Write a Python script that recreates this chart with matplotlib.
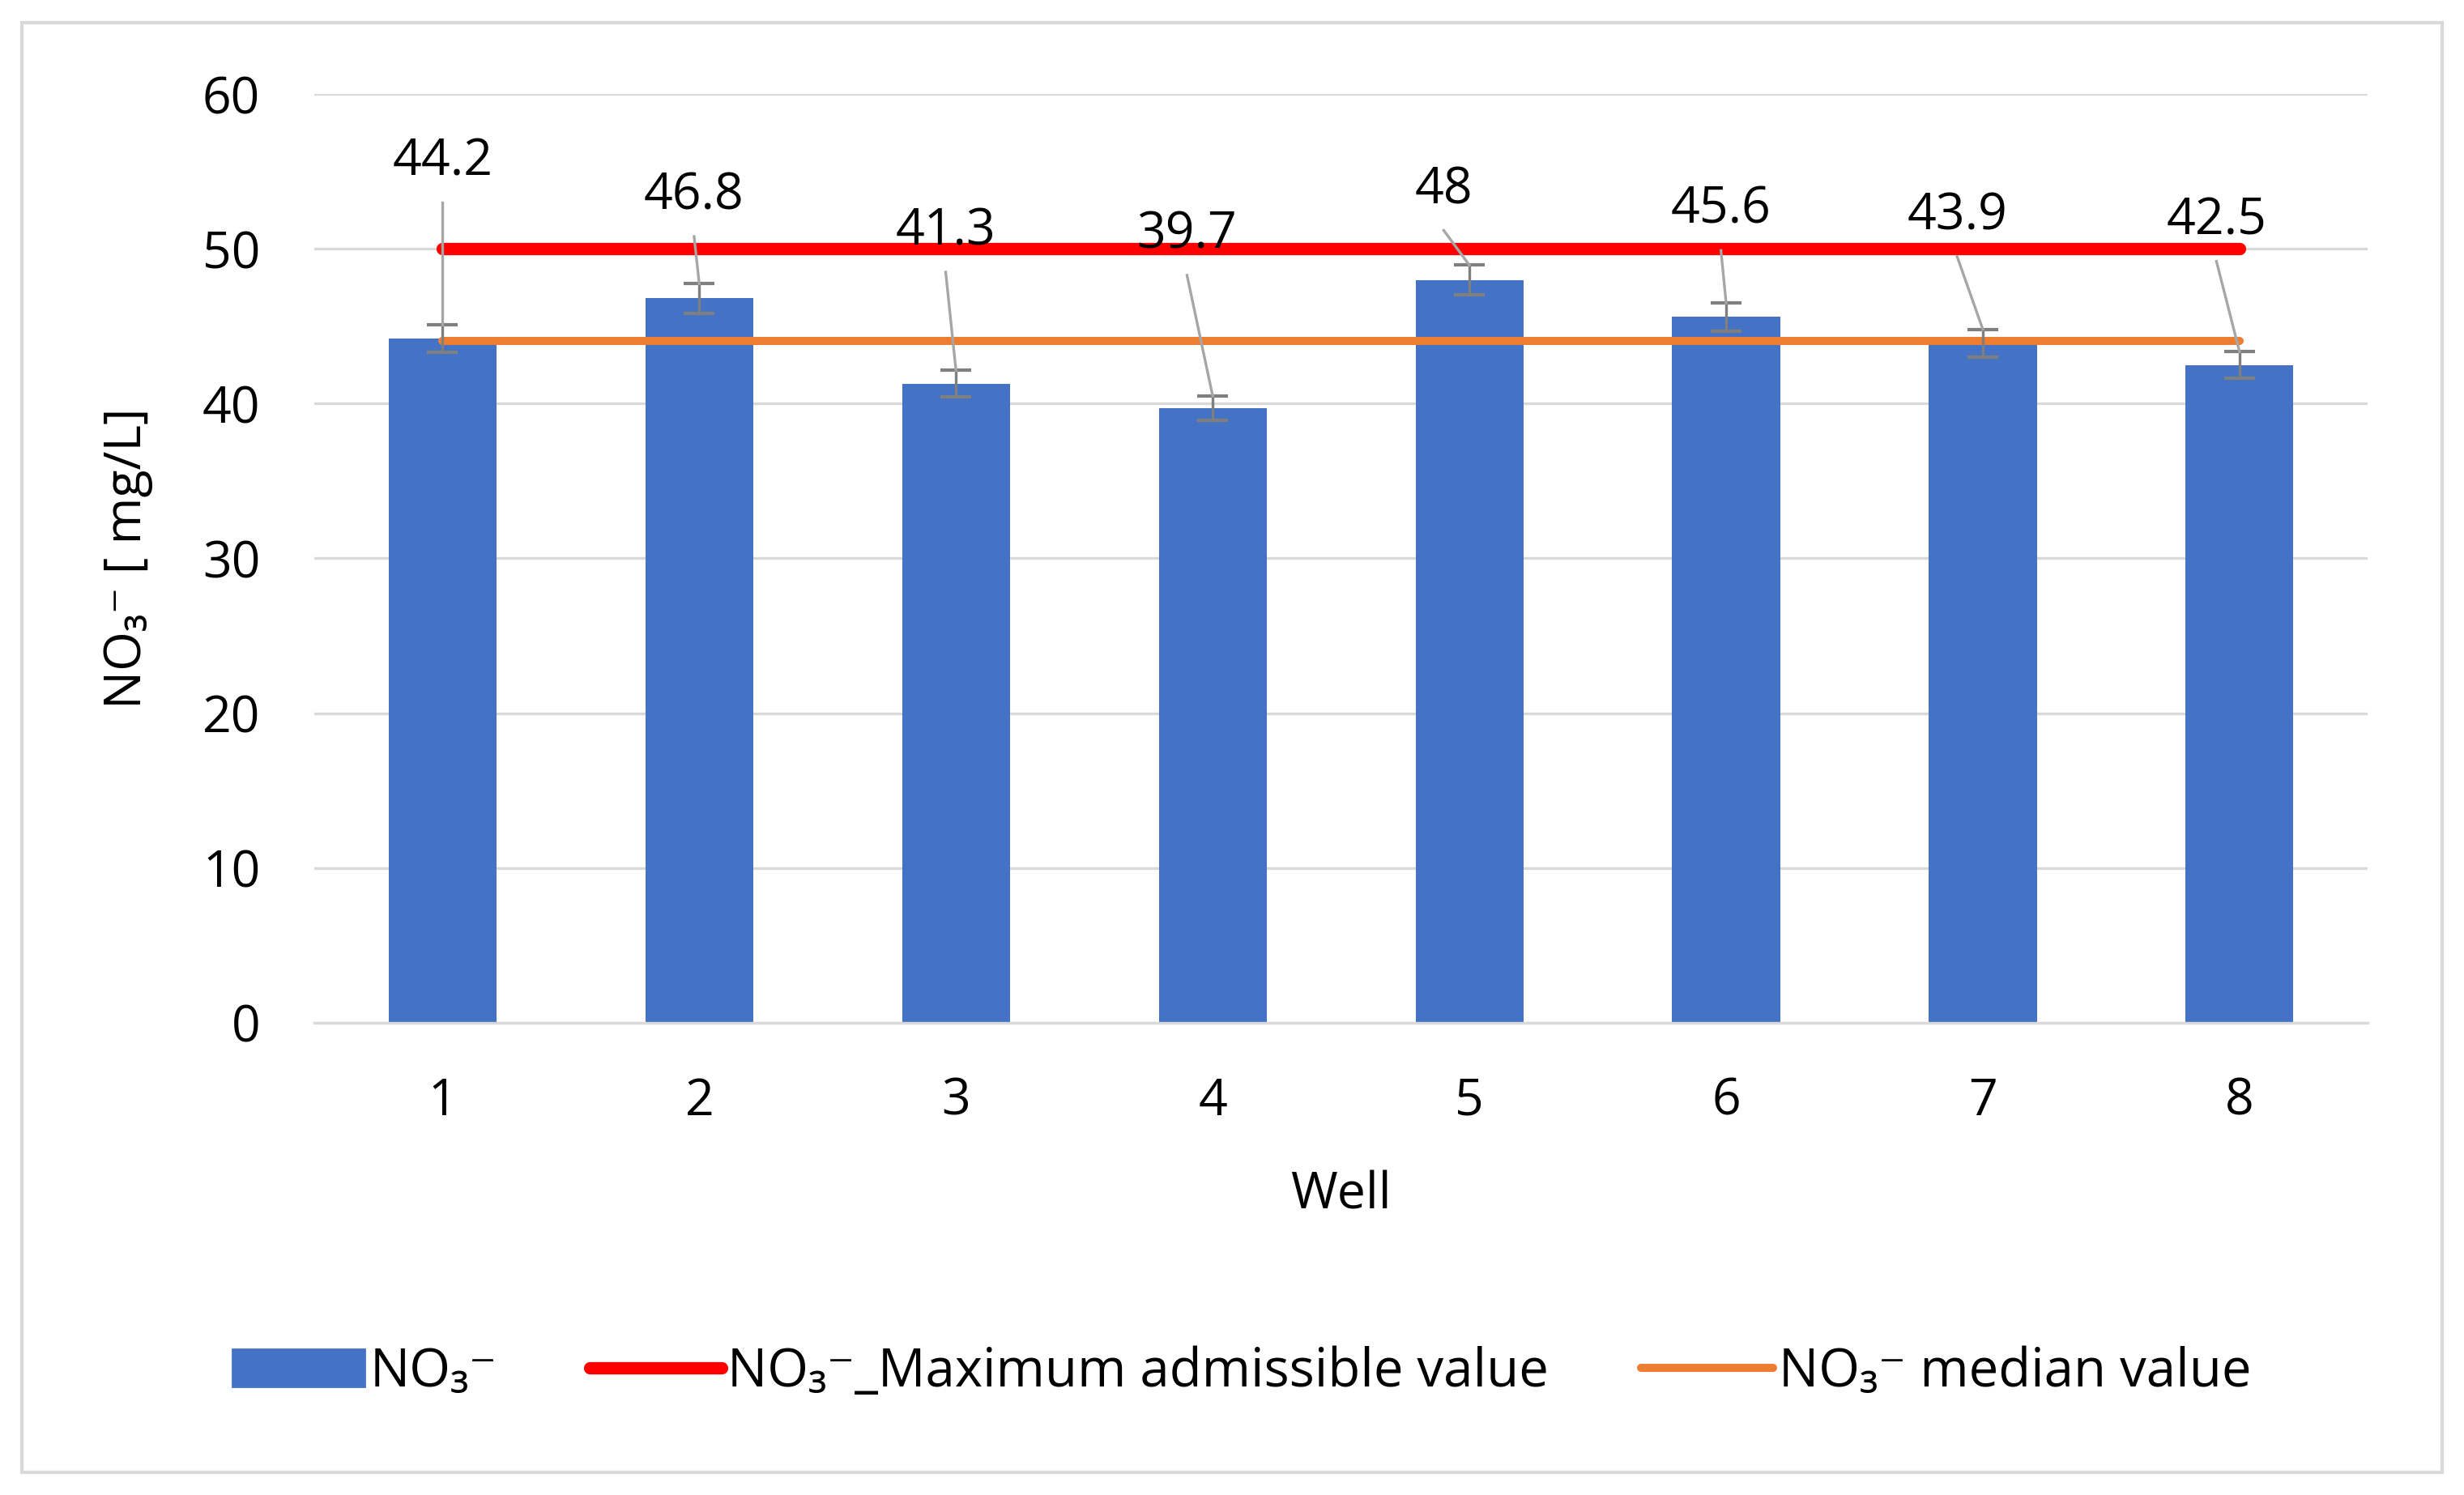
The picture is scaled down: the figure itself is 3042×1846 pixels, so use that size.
import matplotlib.pyplot as plt
from matplotlib.patches import Rectangle, Patch
from matplotlib.lines import Line2D

wells = ['1', '2', '3', '4', '5', '6', '7', '8']
no3 = [44.2, 46.8, 41.3, 39.7, 48.0, 45.6, 43.9, 42.5]
no3_err = [0.9, 0.95, 0.85, 0.8, 0.95, 0.9, 0.9, 0.85]
max_admissible = [50] * 8
median_value = [44.05] * 8
yticks = [0, 10, 20, 30, 40, 50, 60]

# where excel dragged the data labels (offset in x, label height in y)
lab_dx = [0.0, -0.02, -0.04, -0.1, -0.1, -0.02, -0.1, -0.09]
lab_y = [55.6, 53.4, 51.1, 50.9, 53.8, 52.5, 52.1, 51.8]

plt.rcParams['font.family'] = ['Open Sans', 'DejaVu Sans']
fs = 22.5

fig = plt.figure(figsize=(15.21, 9.23), dpi=200)
ax = fig.add_axes([0.1275, 0.316, 0.8335, 0.621])

x = list(range(1, len(wells) + 1))
ax.bar(x, no3, width=0.42, color='#4472C4', zorder=2)
ax.errorbar(x, no3, yerr=no3_err, fmt='none', ecolor='#7f7f7f',
            elinewidth=1.2, capsize=7, capthick=1.5, zorder=4)
ax.plot(x, max_admissible, color='#FF0000', lw=5.5,
        solid_capstyle='round', zorder=3)
ax.plot(x, median_value, color='#ED7D31', lw=3.6,
        solid_capstyle='round', zorder=3)

for i in range(len(x)):
    lx = x[i] + lab_dx[i]
    ax.text(lx, lab_y[i], f'{no3[i]:g}', ha='center', va='center',
            fontsize=fs, color='black', zorder=6)
    ax.plot([lx, x[i]], [lab_y[i] - 2.6, no3[i] + no3_err[i]],
            color='#a6a6a6', lw=1.2, zorder=5)

ax.set_xlim(0.5, 8.5)
ax.set_ylim(0, 60)
ax.set_yticks(yticks)
ax.set_xticks(x)
ax.set_xticklabels(wells)
ax.tick_params(axis='both', length=0, labelsize=fs, colors='black')
ax.tick_params(axis='x', pad=24)
ax.tick_params(axis='y', pad=24)
ax.grid(axis='y', color='#d9d9d9', lw=1.2, zorder=0)
ax.set_axisbelow(True)
for s in ['top', 'right', 'left']:
    ax.spines[s].set_visible(False)
ax.spines['bottom'].set_color('#d9d9d9')
ax.spines['bottom'].set_linewidth(1.2)

ax.set_xlabel('Well', fontsize=fs, labelpad=19)
ax.set_ylabel('NO₃⁻ [ mg/L]', fontsize=fs, labelpad=22)

handles = [Patch(color='#4472C4'),
           Line2D([], [], color='#FF0000', lw=5.5, solid_capstyle='round'),
           Line2D([], [], color='#ED7D31', lw=3.6, solid_capstyle='round')]
labels = ['NO₃⁻', 'NO₃⁻_Maximum admissible value', 'NO₃⁻ median value']
fig.legend(handles, labels, loc='center', bbox_to_anchor=(0.504, 0.082),
           ncol=3, frameon=False, fontsize=23.5, handlelength=2.5,
           handletextpad=0.1, columnspacing=1.75)

fig.patches.append(Rectangle((0.009, 0.015), 0.982, 0.97,
                             transform=fig.transFigure, fill=False,
                             edgecolor='#d9d9d9', lw=1.5))

fig.savefig('out.png', dpi=200, facecolor='white')
